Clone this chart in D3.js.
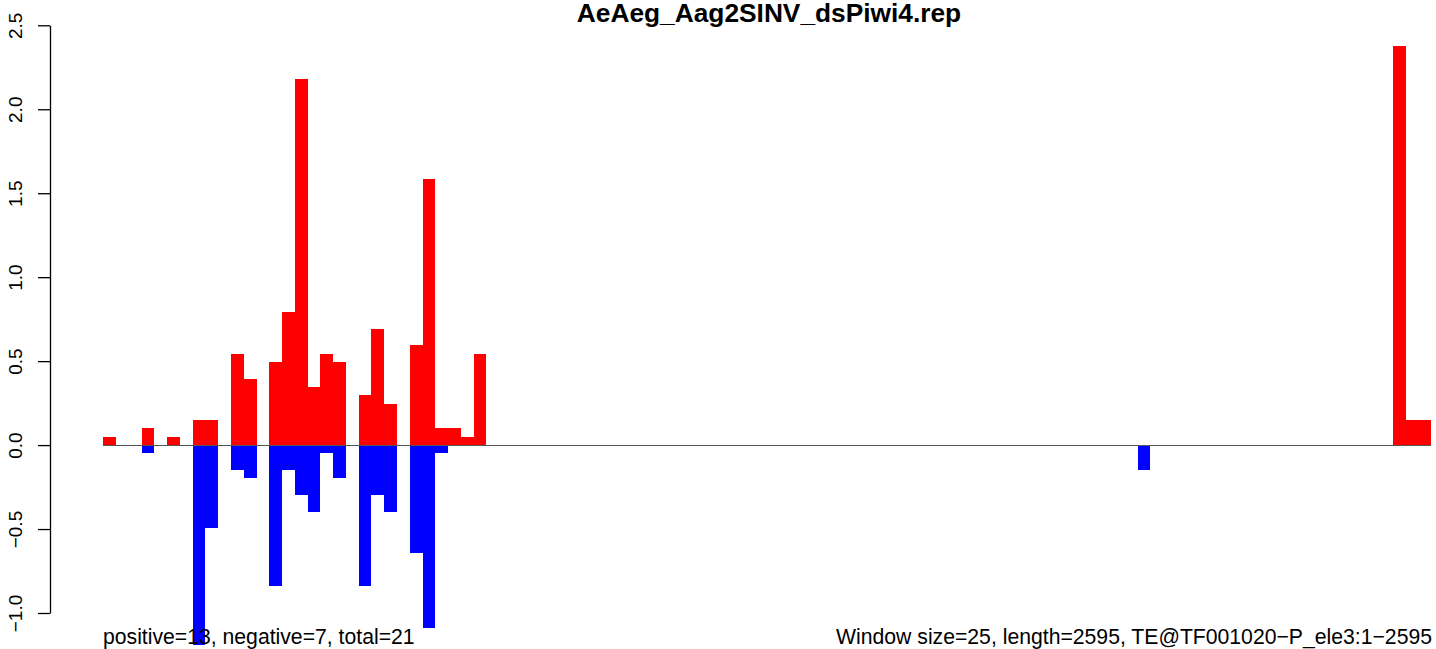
<!DOCTYPE html>
<html>
<head>
<meta charset="utf-8">
<script src="https://cdn.jsdelivr.net/npm/d3@7"></script>
<style>
  html, body { margin: 0; padding: 0; background: #fff; }
  svg { display: block; }
  text { font-family: "Liberation Sans", Arial, Helvetica, sans-serif; fill: #000; }
</style>
</head>
<body>
<svg id="chart" width="1436" height="649"></svg>
<script>
// ---- data ----
const title = "AeAeg_Aag2SINV_dsPiwi4.rep";
const nBins = 104;
const posBins   = [0, 3, 5, 7, 8, 10, 11, 13, 14, 15, 16, 17, 18, 20, 21, 22, 24, 25, 26, 27, 28, 29, 101, 102, 103];
const posValues = [0.0495, 0.099, 0.0495, 0.1485, 0.1485, 0.5445, 0.396, 0.495, 0.792, 2.178, 0.3465, 0.5445, 0.495,
                   0.297, 0.693, 0.2475, 0.594, 1.584, 0.099, 0.099, 0.0495, 0.5445, 2.376, 0.1485, 0.1485];
const negBins   = [3, 7, 8, 10, 11, 13, 14, 15, 16, 17, 18, 20, 21, 22, 24, 25, 26, 81];
const negValues = [-0.0495, -1.188, -0.495, -0.1485, -0.198, -0.8415, -0.1485, -0.297, -0.396, -0.0495, -0.198,
                   -0.8415, -0.297, -0.396, -0.6435, -1.089, -0.0495, -0.1485];
const yTicks = [-1.0, -0.5, 0.0, 0.5, 1.0, 1.5, 2.0, 2.5];
const leftNote  = "positive=13, negative=7, total=21";
const rightNote = "Window size=25, length=2595, TE@TF001020\u2212P_ele3:1\u22122595";

// ---- drawing ----
const svg = d3.select("#chart");
const x = d3.scaleLinear().domain([0, nBins]).range([103.3, 1431.4]);
const y = d3.scaleLinear().domain([-1, 2.5]).range([613, 25.3]);

const pos = posBins.map((b, i) => ({ b, v: posValues[i] }));
const neg = negBins.map((b, i) => ({ b, v: negValues[i] }));

svg.append("g").selectAll("rect").data(pos).join("rect")
  .attr("x", d => x(d.b))
  .attr("width", d => x(d.b + 1) - x(d.b))
  .attr("y", d => y(d.v))
  .attr("height", d => y(0) - y(d.v))
  .attr("fill", "#ff0000")
  .attr("shape-rendering", "crispEdges");

svg.append("g").selectAll("rect").data(neg).join("rect")
  .attr("x", d => x(d.b))
  .attr("width", d => x(d.b + 1) - x(d.b))
  .attr("y", y(0))
  .attr("height", d => y(d.v) - y(0))
  .attr("fill", "#0000ff")
  .attr("shape-rendering", "crispEdges");

// zero line
svg.append("line")
  .attr("x1", x(0)).attr("x2", x(nBins))
  .attr("y1", y(0)).attr("y2", y(0))
  .attr("stroke", "#555").attr("stroke-width", 1)
  .attr("shape-rendering", "crispEdges");

// y axis
const fmt = v => d3.format(".1f")(v).replace("-", "\u2212");
const axis = d3.axisLeft(y).tickValues(yTicks).tickSize(12).tickFormat(fmt).tickSizeOuter(0);
const gy = svg.append("g").attr("transform", "translate(50,0)").call(axis);
gy.select(".domain").attr("stroke", "#000").attr("stroke-width", 1.3);
gy.selectAll(".tick line").attr("stroke", "#000").attr("stroke-width", 1.3);
gy.selectAll(".tick text")
  .attr("x", null).attr("dy", null)
  .attr("transform", "translate(-28,0) rotate(-90)")
  .attr("text-anchor", "middle")
  .style("font-size", "19px")
  .style("font-family", "'Liberation Sans', Arial, sans-serif")
  .attr("fill", "#000");

// title
svg.append("text")
  .attr("x", 769).attr("y", 22)
  .attr("text-anchor", "middle")
  .style("font-weight", "bold")
  .style("font-size", "26.3px")
  .text(title);

// bottom notes
svg.append("text")
  .attr("x", 103).attr("y", 644)
  .style("font-size", "21.2px")
  .text(leftNote);
svg.append("text")
  .attr("x", 1432).attr("y", 644)
  .attr("text-anchor", "end")
  .style("font-size", "21.2px")
  .text(rightNote);
</script>
</body>
</html>
